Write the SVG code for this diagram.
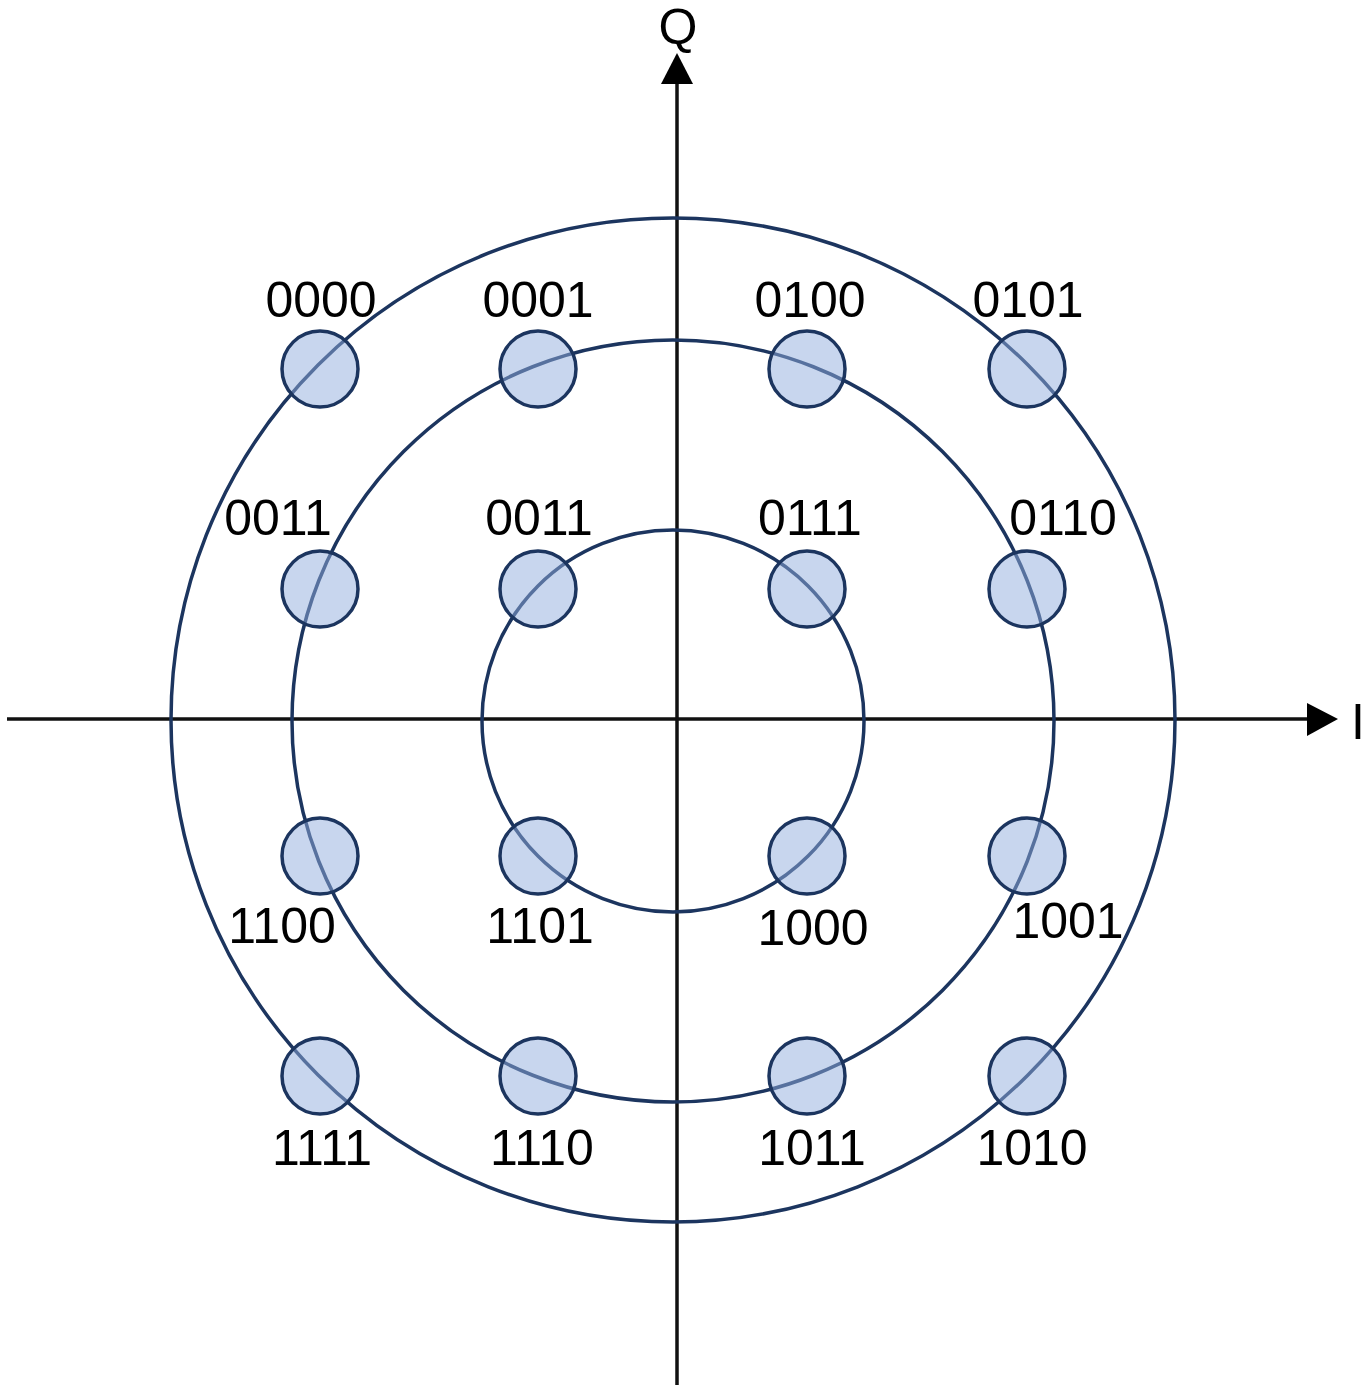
<svg xmlns="http://www.w3.org/2000/svg" width="1371" height="1387" viewBox="0 0 1371 1387">
<style>
.ring{fill:none;stroke:#1c355f;stroke-width:3.5}
.pt{fill:#91addd;fill-opacity:0.5;stroke:#1c355f;stroke-width:3.5}
.lbl{font-family:"Liberation Sans",Arial,sans-serif;font-size:50px;fill:#000;text-anchor:middle}
.ax{stroke:#111;stroke-width:3.5;fill:none}
</style>
<rect width="1371" height="1387" fill="#fff"/>
<g id="connectors">
<line class="ax" x1="7" y1="719" x2="1312" y2="719"/>
<polygon points="1307,703 1338,719 1307,736" fill="#000"/>
<line class="ax" x1="677" y1="1385" x2="677" y2="80"/>
<polygon points="661,84 677,53 693,84" fill="#000"/>
</g>
<g id="axis-labels">
<text class="lbl" x="678" y="44">Q</text>
<text class="lbl" x="1351" y="739" style="text-anchor:start">I</text>
</g>
<g id="rings">
<circle class="ring" cx="673" cy="720" r="502"/>
<circle class="ring" cx="673" cy="721" r="381"/>
<circle class="ring" cx="673" cy="721" r="191"/>
</g>
<g id="p0000"><circle class="pt" cx="320" cy="369" r="38"/><text class="lbl" x="321" y="317">0000</text></g>
<g id="p0001"><circle class="pt" cx="538" cy="369" r="38"/><text class="lbl" x="538" y="317">0001</text></g>
<g id="p0100"><circle class="pt" cx="807" cy="369" r="38"/><text class="lbl" x="810" y="317">0100</text></g>
<g id="p0101"><circle class="pt" cx="1027" cy="369" r="38"/><text class="lbl" x="1028" y="317">0101</text></g>
<g id="p0011a"><circle class="pt" cx="320" cy="589" r="38"/><text class="lbl" x="278" y="535">0011</text></g>
<g id="p0011b"><circle class="pt" cx="538" cy="589" r="38"/><text class="lbl" x="539" y="535">0011</text></g>
<g id="p0111"><circle class="pt" cx="807" cy="589" r="38"/><text class="lbl" x="810" y="535">0111</text></g>
<g id="p0110"><circle class="pt" cx="1027" cy="589" r="38"/><text class="lbl" x="1063" y="535">0110</text></g>
<g id="p1100"><circle class="pt" cx="320" cy="856" r="38"/><text class="lbl" x="282" y="943">1100</text></g>
<g id="p1101"><circle class="pt" cx="538" cy="856" r="38"/><text class="lbl" x="540" y="943">1101</text></g>
<g id="p1000"><circle class="pt" cx="807" cy="856" r="38"/><text class="lbl" x="813" y="945">1000</text></g>
<g id="p1001"><circle class="pt" cx="1027" cy="856" r="38"/><text class="lbl" x="1068" y="938">1001</text></g>
<g id="p1111"><circle class="pt" cx="320" cy="1076" r="38"/><text class="lbl" x="322" y="1165">1111</text></g>
<g id="p1110"><circle class="pt" cx="538" cy="1076" r="38"/><text class="lbl" x="542" y="1165">1110</text></g>
<g id="p1011"><circle class="pt" cx="807" cy="1076" r="38"/><text class="lbl" x="812" y="1165">1011</text></g>
<g id="p1010"><circle class="pt" cx="1027" cy="1076" r="38"/><text class="lbl" x="1032" y="1165">1010</text></g>
</svg>
